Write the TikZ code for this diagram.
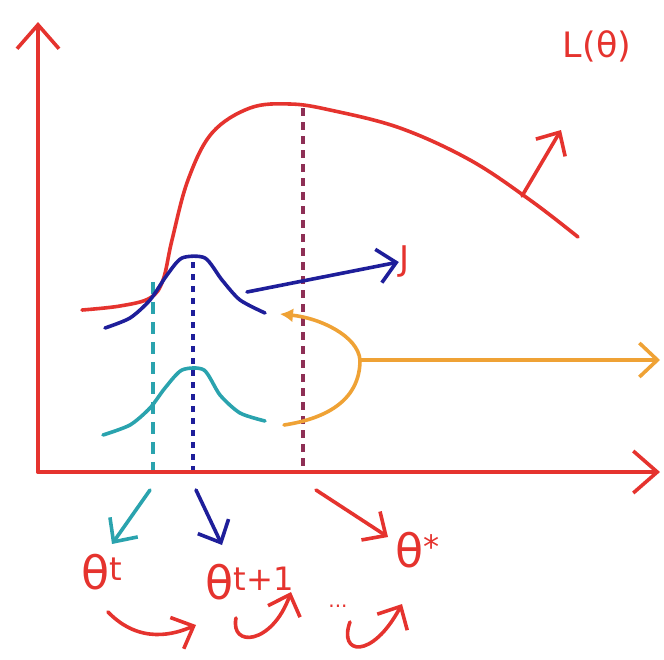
\documentclass[tikz,border=0pt]{standalone}
\usepackage{fontspec}
\setmainfont{DejaVu Sans}
\usetikzlibrary{arrows.meta,positioning}
\definecolor{craie}{HTML}{E5332E}
\definecolor{nuit}{HTML}{1E1E9A}
\definecolor{turq}{HTML}{2AA3AE}
\definecolor{orangeJ}{HTML}{EFA235}
\definecolor{lie}{HTML}{8E2F55}

\begin{document}
\begin{tikzpicture}[
    x=1pt, y=-1pt,
    trait/.style={line width=3.6pt, line cap=round, line join=round},
    axe/.style={trait, draw=craie, -{Straight Barb[length=24pt,width=42pt]}},
    fleche/.style={trait, -{Straight Barb[length=18pt,width=34pt]}},
    repere/.style={line width=3.2pt, dash pattern=on 8pt off 6pt},
    etiq/.style={text=craie, font=\fontsize{46}{46}\selectfont, inner sep=1pt}
  ]
    \useasboundingbox (0,0) rectangle (664,659);
    % axes
    \coordinate (origine) at (38,472);
    \coordinate (haut) at (38,22);
    \coordinate (droite) at (660,472);
    \draw[axe] (origine) -- (haut);
    \draw[axe] (origine) -- (droite);
    % vertical markers
    \draw[repere, draw=lie] (303,108) -- (303,470);
    \draw[repere, draw=turq, dash pattern=on 12pt off 8pt] (153,282) -- (153,470);
    \draw[repere, draw=nuit, dash pattern=on 6pt off 6pt] (193,262) -- (193,470);
    % L(theta)
    \draw[trait, draw=craie] plot[smooth, tension=0.6] coordinates {
      (82,310) (120,306) (150,298) (163,280) (172,240) (188,180)
      (212,133) (250,108) (290,104) (330,110) (400,128) (470,160)
      (530,200) (578,237)};
    \node[etiq, font=\fontsize{35}{35}\selectfont] (lt) at (597,46) {L(θ)};
    \coordinate (ldep) at (522,196);
    \draw[fleche, draw=craie] (ldep) -- (561,130);
    % J curves
    \draw[trait, draw=nuit] plot[smooth, tension=0.45] coordinates {
      (105,328) (130,318) (150,300) (167,275) (182,258) (205,258)
      (222,280) (240,300) (265,313)};
    \draw[trait, draw=turq] plot[smooth, tension=0.45] coordinates {
      (103,435) (130,425) (150,408) (165,388) (182,370) (204,370)
      (220,395) (240,413) (265,421)};
    \node[etiq, font=\fontsize{34}{34}\selectfont] (jt) at (405,262) {J};
    \coordinate (jdep) at (247,292);
    \draw[fleche, draw=nuit] (jdep) -- (jt.west);
    % orange loop
    \coordinate (obas) at (284,425);
    \coordinate (onez) at (360,360);
    \coordinate (ohaut) at (280,314);
    \coordinate (ofin) at (660,360);
    \draw[trait, draw=orangeJ] (obas) .. controls (330,418) and (360,398) .. (onez);
    \draw[trait, draw=orangeJ, -{Latex[length=13pt,width=14pt]}]
      (onez) .. controls (358,336) and (320,318) .. (ohaut);
    \draw[fleche, draw=orangeJ] (onez) -- (ofin);
    % thetas
    \node[etiq] (tht) at (102,572) {θ\textsuperscript{t}};
    \node[etiq] (tht1) at (250,582) {θ\textsuperscript{t+1}};
    \node[etiq] (thopt) at (418,550) {θ\textsuperscript{*}};
    \coordinate (cdep) at (150,490);
    \coordinate (bdep) at (196,490);
    \coordinate (rdep) at (316,490);
    \draw[fleche, draw=turq] (cdep) -- (112,544);
    \draw[fleche, draw=nuit] (bdep) -- (222,545);
    \draw[fleche, draw=craie] (rdep) -- (388,537);
    % steps
    \draw[fleche, draw=craie] (108,612) .. controls (140,645) and (175,634) .. (196,625);
    \draw[fleche, draw=craie] (236,618) .. controls (230,648) and (272,645) .. (291,592);
    \node[text=craie, font=\fontsize{20}{20}\selectfont] (pts) at (338,606) {...};
    \draw[fleche, draw=craie] (350,622) .. controls (338,655) and (372,660) .. (402,604);
\end{tikzpicture}
\end{document}
